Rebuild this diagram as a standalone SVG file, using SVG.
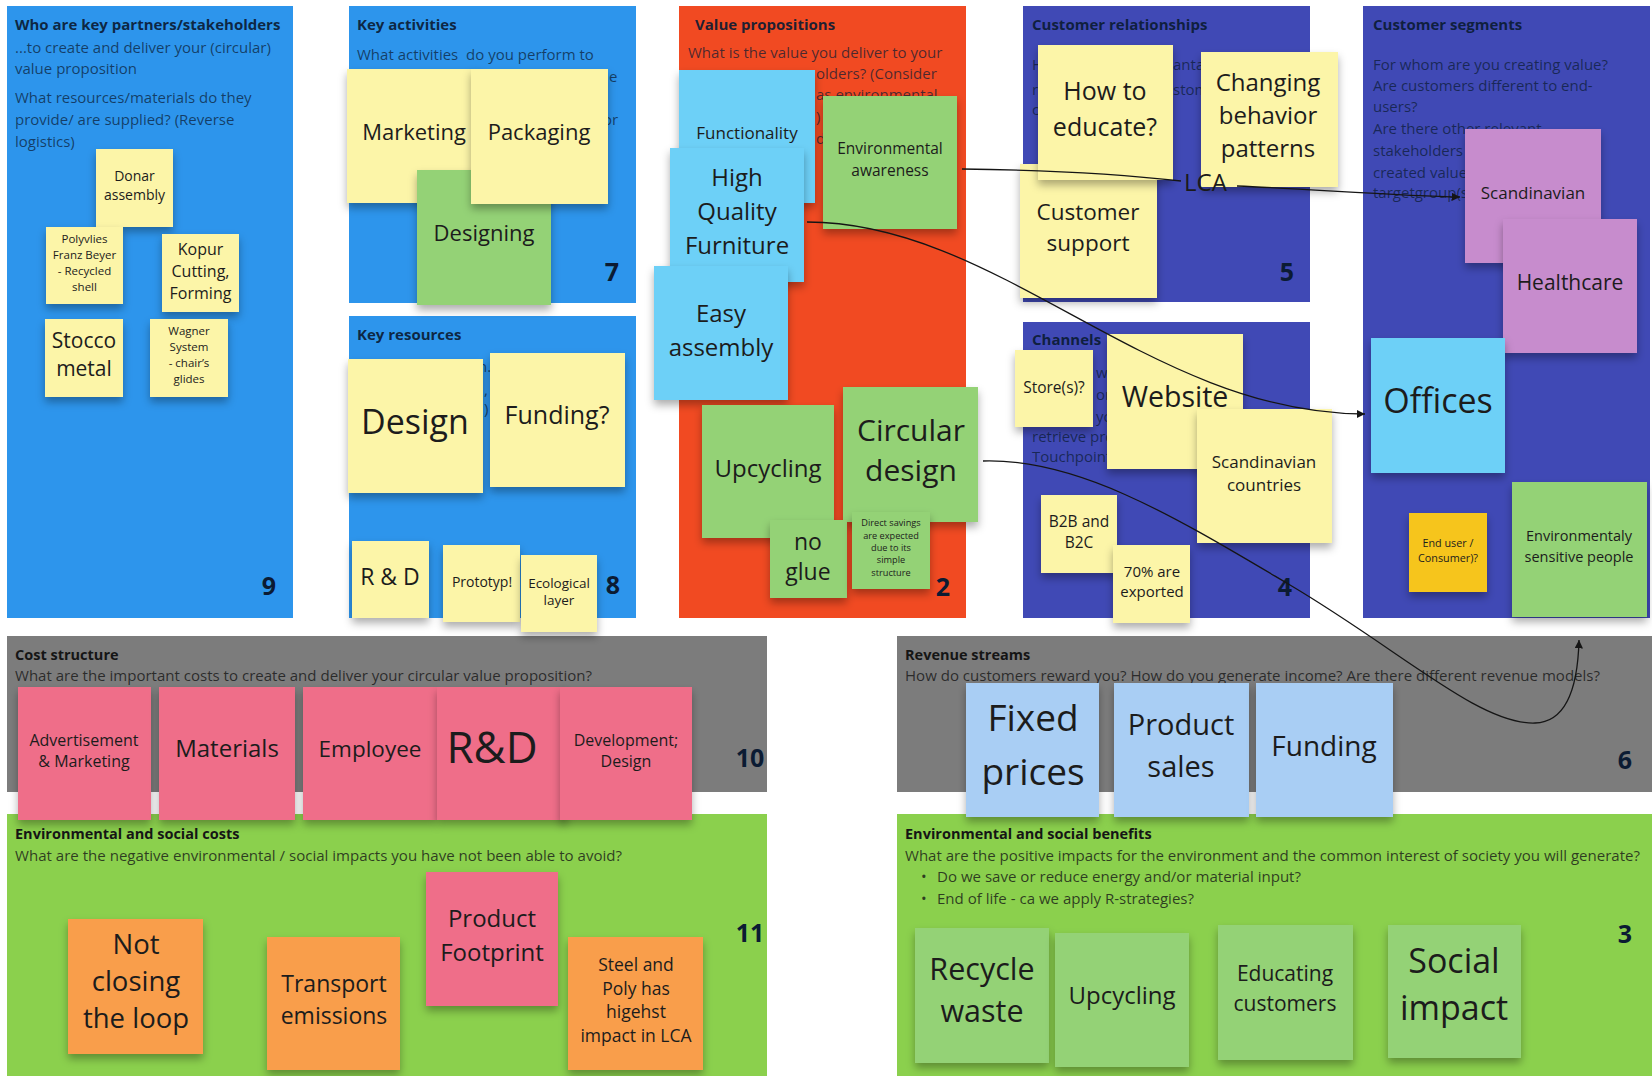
<svg xmlns="http://www.w3.org/2000/svg" width="1652" height="1076" viewBox="0 0 1652 1076">
<defs>
<style>
text{font-family:"Open Sans","Liberation Sans",sans-serif}
.title{font-weight:700;font-size:15px;fill:#0b1b33;fill-opacity:.92}
.body{font-size:15px;fill:#0b1b33;fill-opacity:.72}
.num{font-weight:700;font-size:25px;fill:#0b1b33;text-anchor:middle}
.btitle{font-weight:700;font-size:14.5px;fill:#151515}
.bbody{font-size:15px;fill:#151515;fill-opacity:.8}
.note rect{filter:url(#shadow)}
.note text{text-anchor:middle;fill:#1c1c1c}
.yellow{fill:#fcf5a8}
.cyan{fill:#6dd0f7}
.green{fill:#94d276}
.purple{fill:#c78ccd}
.pink{fill:#ef6e89}
.orange{fill:#f99e4c}
.lblue{fill:#a9cef4}
.gold{fill:#f6c51b}
.conn{fill:none;stroke:#151515;stroke-width:1.3}
</style>
<filter id="shadow" x="-15%" y="-15%" width="130%" height="140%">
<feDropShadow dx="0" dy="5" stdDeviation="4" flood-color="#000" flood-opacity="0.32"/>
</filter>
<marker id="ah" viewBox="0 0 10 10" refX="10" refY="5" markerWidth="6.5" markerHeight="6.5" orient="auto">
<path d="M0,0 L10,5 L0,10 z" fill="#151515"/>
</marker>
</defs>

<rect width="1652" height="1076" fill="#ffffff"/>

<!-- ===== Canvas sections ===== -->
<g id="panel-partners">
<rect x="7" y="6" width="286" height="612" fill="#2d95ec"/>
<text class="title" x="15" y="30">Who are key partners/stakeholders</text>
<text class="body" x="15" y="53">...to create and deliver your (circular)</text>
<text class="body" x="15" y="74">value proposition</text>
<text class="body" x="15" y="103">What resources/materials do they</text>
<text class="body" x="15" y="125">provide/ are supplied? (Reverse</text>
<text class="body" x="15" y="147">logistics)</text>
<text class="num" x="269" y="595">9</text>
</g>

<g id="panel-activities">
<rect x="349" y="6" width="287" height="297" fill="#2d95ec"/>
<text class="title" x="357" y="30">Key activities</text>
<text class="body" x="357" y="60" xml:space="preserve">What activities  do you perform to</text>
<text class="body" x="609" y="82">e</text>
<text class="body" x="603" y="125">or</text>
<text class="num" x="612" y="281">7</text>
</g>

<g id="panel-resources">
<rect x="349" y="316" width="287" height="302" fill="#2d95ec"/>
<text class="title" x="357" y="340">Key resources</text>
<text class="body" x="478" y="372">n.</text>
<text class="body" x="484" y="395">,</text>
<text class="body" x="484" y="414">)</text>
<text class="num" x="613" y="594">8</text>
</g>

<g id="panel-value">
<rect x="679" y="6" width="287" height="612" fill="#f14a22"/>
<text class="title" x="695" y="30">Value propositions</text>
<text class="body" x="688" y="58">What is the value you deliver to your</text>
<text class="body" x="816" y="79">olders? (Consider</text>
<text class="body" x="816" y="100">as environmental</text>
<text class="body" x="816" y="122">)</text>
<text class="body" x="816" y="144">d</text>
<text class="num" x="943" y="596">2</text>
</g>

<g id="panel-relationships">
<rect x="1023" y="6" width="287" height="296" fill="#4049b5"/>
<text class="title" x="1032" y="30">Customer relationships</text>
<text class="body" x="1032" y="70">H</text>
<text class="body" x="1173" y="70">anta</text>
<text class="body" x="1032" y="95">r</text>
<text class="body" x="1173" y="95">stom</text>
<text class="body" x="1032" y="115">c</text>
<text class="num" x="1287" y="281">5</text>
</g>

<g id="panel-channels">
<rect x="1023" y="322" width="287" height="296" fill="#4049b5"/>
<text class="title" x="1032" y="345">Channels</text>
<text class="body" x="1096" y="378">w</text>
<text class="body" x="1096" y="400">or</text>
<text class="body" x="1096" y="422">yo</text>
<text class="body" x="1032" y="442">retrieve pro</text>
<text class="body" x="1032" y="462">Touchpoint</text>
<text class="num" x="1285" y="596">4</text>
</g>

<g id="panel-segments">
<rect x="1363" y="6" width="287" height="612" fill="#4049b5"/>
<text class="title" x="1373" y="30">Customer segments</text>
<text class="body" x="1373" y="70">For whom are you creating value?</text>
<text class="body" x="1373" y="91">Are customers different to end-</text>
<text class="body" x="1373" y="112">users?</text>
<text class="body" x="1373" y="134">Are there other relevant</text>
<text class="body" x="1373" y="156">stakeholders</text>
<text class="body" x="1373" y="178">created value</text>
<text class="body" x="1373" y="198">targetgroup(s)</text>
</g>

<g id="panel-costs">
<rect x="7" y="636" width="760" height="156" fill="#7c7c7c"/>
<text class="btitle" x="15" y="660">Cost structure</text>
<text class="bbody" x="15" y="681" textLength="577" lengthAdjust="spacingAndGlyphs">What are the important costs to create and deliver your circular value proposition?</text>
<text class="num" x="750" y="767" fill="#151515">10</text>
</g>

<g id="panel-env-costs">
<rect x="7" y="814" width="760" height="262" fill="#8bd04d"/>
<text class="btitle" x="15" y="839">Environmental and social costs</text>
<text class="bbody" x="15" y="861" textLength="607" lengthAdjust="spacingAndGlyphs">What are the negative environmental / social impacts you have not been able to avoid?</text>
<text class="num" x="750" y="942">11</text>
</g>

<g id="panel-revenue">
<rect x="897" y="636" width="755" height="156" fill="#7c7c7c"/>
<text class="btitle" x="905" y="660">Revenue streams</text>
<text class="bbody" x="905" y="681" textLength="695" lengthAdjust="spacingAndGlyphs">How do customers reward you? How do you generate income? Are there different revenue models?</text>
<text class="num" x="1625" y="769">6</text>
</g>

<g id="panel-env-benefits">
<rect x="897" y="814" width="755" height="262" fill="#8bd04d"/>
<text class="btitle" x="905" y="839">Environmental and social benefits</text>
<text class="bbody" x="905" y="861" textLength="735" lengthAdjust="spacingAndGlyphs">What are the positive impacts for the environment and the common interest of society you will generate?</text>
<text class="bbody" x="921" y="882">•</text>
<text class="bbody" x="937" y="882" textLength="364" lengthAdjust="spacingAndGlyphs">Do we save or reduce energy and/or material input?</text>
<text class="bbody" x="921" y="904">•</text>
<text class="bbody" x="937" y="904" textLength="257" lengthAdjust="spacingAndGlyphs">End of life - ca we apply R-strategies?</text>
<text class="num" x="1625" y="943">3</text>
</g>

<!-- ===== Sticky notes ===== -->
<g id="note-donar" class="note"><rect class="yellow" x="96" y="149" width="77" height="78"/>
<text font-size="14"><tspan x="134.5" y="181">Donar</tspan><tspan x="134.5" y="200">assembly</tspan></text></g>
<g id="note-polyvlies" class="note"><rect class="yellow" x="46" y="227" width="77" height="77"/>
<text font-size="11.5"><tspan x="84.5" y="243">Polyvlies</tspan><tspan x="84.5" y="259">Franz Beyer</tspan><tspan x="84.5" y="275">- Recycled</tspan><tspan x="84.5" y="291">shell</tspan></text></g>
<g id="note-kopur" class="note"><rect class="yellow" x="162" y="234" width="77" height="78"/>
<text font-size="16"><tspan x="200.5" y="255">Kopur</tspan><tspan x="200.5" y="277">Cutting,</tspan><tspan x="200.5" y="299">Forming</tspan></text></g>
<g id="note-stocco" class="note"><rect class="yellow" x="45" y="319" width="78" height="78"/>
<text font-size="21"><tspan x="84" y="348">Stocco</tspan><tspan x="84" y="376">metal</tspan></text></g>
<g id="note-wagner" class="note"><rect class="yellow" x="150" y="319" width="78" height="78"/>
<text font-size="11.5"><tspan x="189" y="335">Wagner</tspan><tspan x="189" y="351">System</tspan><tspan x="189" y="367">- chair’s</tspan><tspan x="189" y="383">glides</tspan></text></g>

<g id="note-marketing" class="note"><rect class="yellow" x="347" y="69" width="134" height="134"/>
<text font-size="22" x="414" y="140">Marketing</text></g>
<g id="note-designing" class="note"><rect class="green" x="417" y="170" width="134" height="135"/>
<text font-size="22" x="484" y="241">Designing</text></g>
<g id="note-packaging" class="note"><rect class="yellow" x="471" y="69" width="137" height="135"/>
<text font-size="22" x="539" y="140">Packaging</text></g>

<g id="note-design" class="note"><rect class="yellow" x="348" y="359" width="135" height="134"/>
<text font-size="34" x="415" y="434">Design</text></g>
<g id="note-funding-q" class="note"><rect class="yellow" x="490" y="353" width="135" height="134"/>
<text font-size="25" x="557" y="424">Funding?</text></g>
<g id="note-r-and-d" class="note"><rect class="yellow" x="352" y="541" width="77" height="77"/>
<text font-size="23" x="390" y="585">R &amp; D</text></g>
<g id="note-prototyp" class="note"><rect class="yellow" x="443" y="545" width="77" height="77"/>
<text font-size="14" x="482" y="587">Prototyp!</text></g>
<g id="note-ecological" class="note"><rect class="yellow" x="521" y="555" width="76" height="77"/>
<text font-size="13.5"><tspan x="559" y="588">Ecological</tspan><tspan x="559" y="605">layer</tspan></text></g>

<g id="note-functionality" class="note"><rect class="cyan" x="679" y="70" width="136" height="133"/>
<text font-size="17" x="747" y="139">Functionality</text></g>
<g id="note-quality" class="note"><rect class="cyan" x="670" y="148" width="134" height="134"/>
<text font-size="24"><tspan x="737" y="186">High</tspan><tspan x="737" y="220">Quality</tspan><tspan x="737" y="254">Furniture</tspan></text></g>
<g id="note-easy" class="note"><rect class="cyan" x="654" y="266" width="134" height="134"/>
<text font-size="24"><tspan x="721" y="322">Easy</tspan><tspan x="721" y="356">assembly</tspan></text></g>
<g id="note-env-awareness" class="note"><rect class="green" x="823" y="96" width="134" height="133"/>
<text font-size="15.5"><tspan x="890" y="154">Environmental</tspan><tspan x="890" y="176">awareness</tspan></text></g>
<g id="note-upcycling" class="note"><rect class="green" x="702" y="405" width="132" height="133"/>
<text font-size="24" x="768" y="477">Upcycling</text></g>
<g id="note-circular" class="note"><rect class="green" x="843" y="387" width="135" height="135"/>
<text font-size="30"><tspan x="911" y="441">Circular</tspan><tspan x="911" y="481">design</tspan></text></g>
<g id="note-no-glue" class="note"><rect class="green" x="770" y="520" width="77" height="78"/>
<text font-size="23"><tspan x="808" y="550">no</tspan><tspan x="808" y="580">glue</tspan></text></g>
<g id="note-savings" class="note"><rect class="green" x="852" y="512" width="78" height="77"/>
<text font-size="9.2"><tspan x="891" y="526">Direct savings</tspan><tspan x="891" y="539">are expected</tspan><tspan x="891" y="551">due to its</tspan><tspan x="891" y="563">simple</tspan><tspan x="891" y="576">structure</tspan></text></g>

<g id="note-support" class="note"><rect class="yellow" x="1020" y="164" width="137" height="134"/>
<text font-size="22.5"><tspan x="1088" y="220">Customer</tspan><tspan x="1088" y="251">support</tspan></text></g>
<g id="note-educate" class="note"><rect class="yellow" x="1038" y="45" width="135" height="135"/>
<text font-size="25"><tspan x="1105" y="100">How to</tspan><tspan x="1105" y="136">educate?</tspan></text></g>
<g id="note-behavior" class="note"><rect class="yellow" x="1201" y="52" width="137" height="135"/>
<text font-size="24"><tspan x="1268" y="91">Changing</tspan><tspan x="1268" y="124">behavior</tspan><tspan x="1268" y="157">patterns</tspan></text></g>

<g id="note-stores" class="note"><rect class="yellow" x="1015" y="350" width="78" height="77"/>
<text font-size="15.5" x="1054" y="393">Store(s)?</text></g>
<g id="note-website" class="note"><rect class="yellow" x="1107" y="334" width="136" height="135"/>
<text font-size="28.5" x="1175" y="407">Website</text></g>
<g id="note-scand-countries" class="note"><rect class="yellow" x="1197" y="409" width="135" height="134"/>
<text font-size="17"><tspan x="1264" y="468">Scandinavian</tspan><tspan x="1264" y="491">countries</tspan></text></g>
<g id="note-b2b" class="note"><rect class="yellow" x="1041" y="495" width="76" height="78"/>
<text font-size="15.5"><tspan x="1079" y="527">B2B and</tspan><tspan x="1079" y="548">B2C</tspan></text></g>
<g id="note-exported" class="note"><rect class="yellow" x="1113" y="545" width="77" height="78"/>
<text font-size="15"><tspan x="1152" y="577">70% are</tspan><tspan x="1152" y="597">exported</tspan></text></g>

<g id="note-scandinavian" class="note"><rect class="purple" x="1465" y="129" width="136" height="134"/>
<text font-size="17" x="1533" y="199">Scandinavian</text></g>
<g id="note-healthcare" class="note"><rect class="purple" x="1503" y="219" width="134" height="134"/>
<text font-size="21" x="1570" y="290">Healthcare</text></g>
<g id="note-offices" class="note"><rect class="cyan" x="1371" y="338" width="134" height="135"/>
<text font-size="34" x="1438" y="413">Offices</text></g>
<g id="note-end-user" class="note"><rect class="gold" x="1409" y="513" width="78" height="79"/>
<text font-size="10.8" fill="#3a2c08"><tspan x="1448" y="547">End user /</tspan><tspan x="1448" y="562">Consumer)?</tspan></text></g>
<g id="note-sensitive" class="note"><rect class="green" x="1512" y="482" width="135" height="135"/>
<text font-size="14.5"><tspan x="1579" y="541">Environmentaly</tspan><tspan x="1579" y="562">sensitive people</tspan></text></g>

<g id="note-advertisement" class="note"><rect class="pink" x="18" y="687" width="133" height="133"/>
<text font-size="16"><tspan x="84" y="746">Advertisement</tspan><tspan x="84" y="767">&amp; Marketing</tspan></text></g>
<g id="note-materials" class="note"><rect class="pink" x="159" y="687" width="136" height="133"/>
<text font-size="24" x="227" y="757">Materials</text></g>
<g id="note-employee" class="note"><rect class="pink" x="303" y="687" width="134" height="133"/>
<text font-size="22.5" x="370" y="757">Employee</text></g>
<g id="note-rd-cost" class="note"><rect class="pink" x="437" y="687" width="130" height="133"/>
<text font-size="44" x="492" y="763">R&amp;D</text></g>
<g id="note-development" class="note"><rect class="pink" x="560" y="687" width="132" height="133"/>
<text font-size="16"><tspan x="626" y="746">Development;</tspan><tspan x="626" y="767">Design</tspan></text></g>

<g id="note-loop" class="note"><rect class="orange" x="68" y="919" width="135" height="135"/>
<text font-size="27.5"><tspan x="136" y="954">Not</tspan><tspan x="136" y="991">closing</tspan><tspan x="136" y="1028">the loop</tspan></text></g>
<g id="note-transport" class="note"><rect class="orange" x="267" y="937" width="133" height="133"/>
<text font-size="23"><tspan x="334" y="992">Transport</tspan><tspan x="334" y="1024">emissions</tspan></text></g>
<g id="note-footprint" class="note"><rect class="pink" x="426" y="872" width="132" height="134"/>
<text font-size="24"><tspan x="492" y="927">Product</tspan><tspan x="492" y="961">Footprint</tspan></text></g>
<g id="note-steel" class="note"><rect class="orange" x="568" y="937" width="135" height="133"/>
<text font-size="17.5"><tspan x="636" y="971">Steel and</tspan><tspan x="636" y="995">Poly has</tspan><tspan x="636" y="1018">higehst</tspan><tspan x="636" y="1042">impact in LCA</tspan></text></g>

<g id="note-fixed" class="note"><rect class="lblue" x="966" y="683" width="133" height="134"/>
<text font-size="37"><tspan x="1033" y="731">Fixed</tspan><tspan x="1033" y="785">prices</tspan></text></g>
<g id="note-product-sales" class="note"><rect class="lblue" x="1114" y="683" width="135" height="134"/>
<text font-size="29"><tspan x="1181" y="735">Product</tspan><tspan x="1181" y="777">sales</tspan></text></g>
<g id="note-funding" class="note"><rect class="lblue" x="1256" y="683" width="137" height="134"/>
<text font-size="28" x="1324" y="756">Funding</text></g>

<g id="note-recycle" class="note"><rect class="green" x="915" y="928" width="134" height="135"/>
<text font-size="30.5"><tspan x="982" y="980">Recycle</tspan><tspan x="982" y="1022">waste</tspan></text></g>
<g id="note-upcycling-benefit" class="note"><rect class="green" x="1055" y="933" width="134" height="134"/>
<text font-size="24" x="1122" y="1004">Upcycling</text></g>
<g id="note-educating" class="note"><rect class="green" x="1218" y="925" width="135" height="135"/>
<text font-size="21"><tspan x="1285" y="981">Educating</tspan><tspan x="1285" y="1011">customers</tspan></text></g>
<g id="note-social" class="note"><rect class="green" x="1388" y="925" width="133" height="133"/>
<text font-size="34"><tspan x="1454" y="973">Social</tspan><tspan x="1454" y="1020">impact</tspan></text></g>

<!-- LCA label sitting on the relationships board -->
<g id="label-lca">
<text x="1184" y="191" font-size="24" fill="#1a1a1a">LCA</text>
</g>

<!-- ===== Connectors ===== -->
<g id="connectors">
<path class="conn" d="M962,169 C1050,170 1120,174 1181,181"/>
<path class="conn" d="M1237,186 C1310,189 1400,196 1460,197" marker-end="url(#ah)"/>
<path class="conn" d="M807,222 C1000,222 1150,414 1365,414" marker-end="url(#ah)"/>
<path class="conn" d="M983,461 C1080,458 1180,520 1290,585 C1400,650 1480,725 1535,723 C1570,722 1578,680 1579,640" marker-end="url(#ah)"/>
</g>
</svg>
